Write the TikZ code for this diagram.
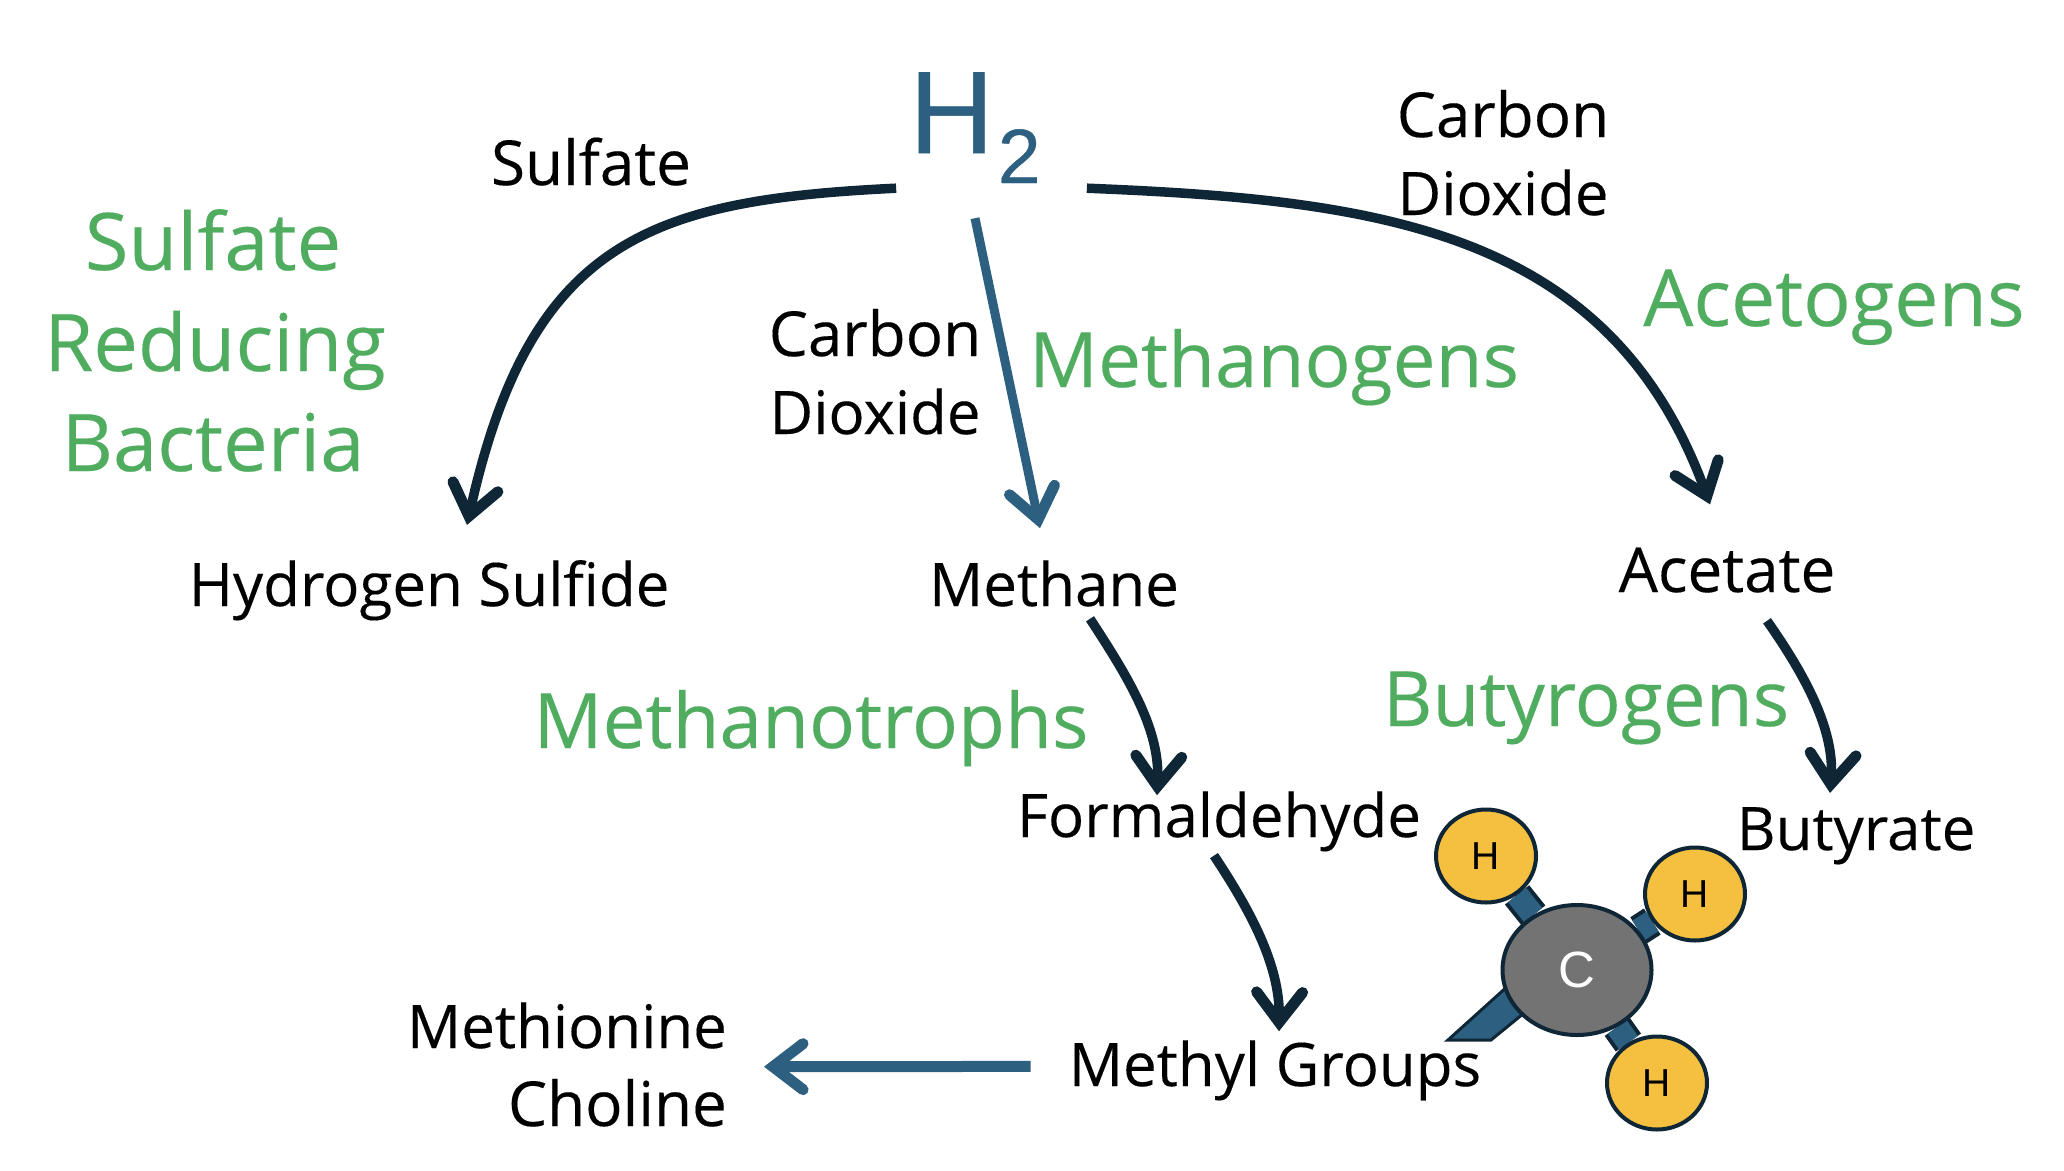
\documentclass[tikz,border=0pt]{standalone}
\usepackage{fontspec}
\setmainfont{Open Sans}[FakeBold=0.25]
\newfontfamily\atomfont{Liberation Sans}
\newfontfamily\htwofont{Liberation Sans}[FakeBold=0.5]
\usetikzlibrary{arrows.meta,backgrounds,shapes.geometric}
\definecolor{arrowdark}{HTML}{0F2636}
\definecolor{arrowblue}{HTML}{2C5F80}
\definecolor{groupgreen}{HTML}{50AD60}
\definecolor{atomyellow}{HTML}{F5BF3F}
\definecolor{atomgray}{HTML}{737373}
\tikzset{
  darkarrow/.style={draw=arrowdark,line width=9.5pt,-{Straight Barb[line cap=round,line join=miter,length=30pt,width=46pt,line width=11pt]}},
  bluearrow/.style={draw=arrowblue,line width=#1,-{Straight Barb[line cap=round,line join=miter,length=30pt,width=46pt,line width=11pt]}},
  hatom/.style={ellipse,draw=arrowdark,line width=4pt,fill=atomyellow,minimum width=100pt,minimum height=93pt,inner sep=0pt,font=\atomfont\fontsize{39}{42}\selectfont},
  catom/.style={ellipse,draw=arrowdark,line width=4pt,fill=atomgray,text=white,minimum width=149pt,minimum height=130pt,inner sep=0pt,font=\atomfont\fontsize{51}{54}\selectfont},
  bond/.style={draw=arrowdark,line width=4pt,double=arrowblue,double distance=23pt},
  widelabel/.style={font=\fontsize{62}{78}\selectfont}
}
\begin{document}
\begin{tikzpicture}[x=1pt,y=-1pt]
  \useasboundingbox (0,0) rectangle (2064,1170);
  \node[anchor=base,inner sep=0pt,text=arrowblue,font=\htwofont\fontsize{117}{120}\selectfont] (htwo) at (975,153)
    {H\kern4pt\raisebox{-30pt}{\fontsize{77}{80}\selectfont 2}};
  \begin{scope}[every node/.style={anchor=base,inner sep=0pt,text=black,font=\fontsize{60}{78}\selectfont}]
    \node[widelabel] (sulfate) at (591,185) {Sulfate};
    \node[widelabel] (co2right) at (1503,137) {Carbon};
    \node (co2rightb) at (1503,215) {Dioxide};
    \node[widelabel] (co2mid) at (875,356) {Carbon};
    \node (co2midb) at (875,434) {Dioxide};
    \node (hsulfide) at (429,606) {Hydrogen Sulfide};
    \node (methane) at (1054,606) {Methane};
    \node[widelabel] (acetate) at (1727,592) {Acetate};
    \node (formaldehyde) at (1219,837) {Formaldehyde};
    \node (butyrate) at (1856,850) {Butyrate};
    \node (methyl) at (1275,1086) {Methyl Groups};
    \node[anchor=base east] (methionine) at (727,1048) {Methionine};
    \node[anchor=base east,widelabel] (choline) at (727,1126) {Choline};
  \end{scope}
  \begin{scope}[every node/.style={anchor=base,inner sep=0pt,text=groupgreen,font=\fontsize{76.5}{100}\selectfont}]
    \node[font=\fontsize{79.5}{100}\selectfont] (srba) at (213,270) {Sulfate};
    \node[font=\fontsize{79.5}{100}\selectfont] (srbb) at (215,371) {Reducing};
    \node[font=\fontsize{79.5}{100}\selectfont] (srbc) at (213,471) {Bacteria};
    \node (methanogens) at (1274,387) {Methanogens};
    \node[font=\fontsize{79}{100}\selectfont] (acetogens) at (1834,326) {Acetogens};
    \node (methanotrophs) at (811,748) {Methanotrophs};
    \node (butyrogens) at (1586,726) {Butyrogens};
  \end{scope}
  \begin{scope}
    \node[catom] (carbon) at (1577,970) {C};
    \node[hatom] (hone) at (1486,856) {H};
    \node[hatom] (hsecond) at (1695,894) {H};
    \node[hatom] (hthird) at (1657,1083) {H};
  \end{scope}
  \begin{scope}[on background layer]
    \draw[bond] (carbon) -- (hone);
    \draw[bond] (carbon) -- (hsecond);
    \draw[bond] (carbon) -- (hthird);
    \draw[draw=arrowdark,line width=3pt,fill=arrowblue] (1448,1040) -- (1491,1040) -- (1545,996) -- (1530,966) -- cycle;
  \end{scope}
  \draw[darkarrow] ([shift={(-13,5)}]htwo.south west) .. controls (650,200) and (530,240) .. ([shift={(38,-35)}]hsulfide.north);
  \draw[darkarrow] ([shift={(46,5)}]htwo.south east) .. controls (1380,200) and (1610,230) .. ([shift={(-17,-43)}]acetate.north);
  \draw[bluearrow=9pt] ([shift={(0,35)}]htwo.south) -- ([shift={(-14,-32)}]methane.north);
  \draw[darkarrow] ([shift={(36,12)}]methane.south) .. controls (1130,680) and (1160,730) .. ([shift={(-62,4)}]formaldehyde.north);
  \draw[darkarrow] ([shift={(40,28)}]acetate.south) .. controls (1805,675) and (1835,730) .. ([shift={(-26,-14)}]butyrate.north);
  \draw[darkarrow] ([shift={(-5,4)}]formaldehyde.south) .. controls (1250,910) and (1280,965) .. ([shift={(4,-9)}]methyl.north);
  \draw[bluearrow=11pt] ([shift={(-38,-4)}]methyl.west) -- ([shift={(37,-12)}]choline.north east);
\end{tikzpicture}
\end{document}
